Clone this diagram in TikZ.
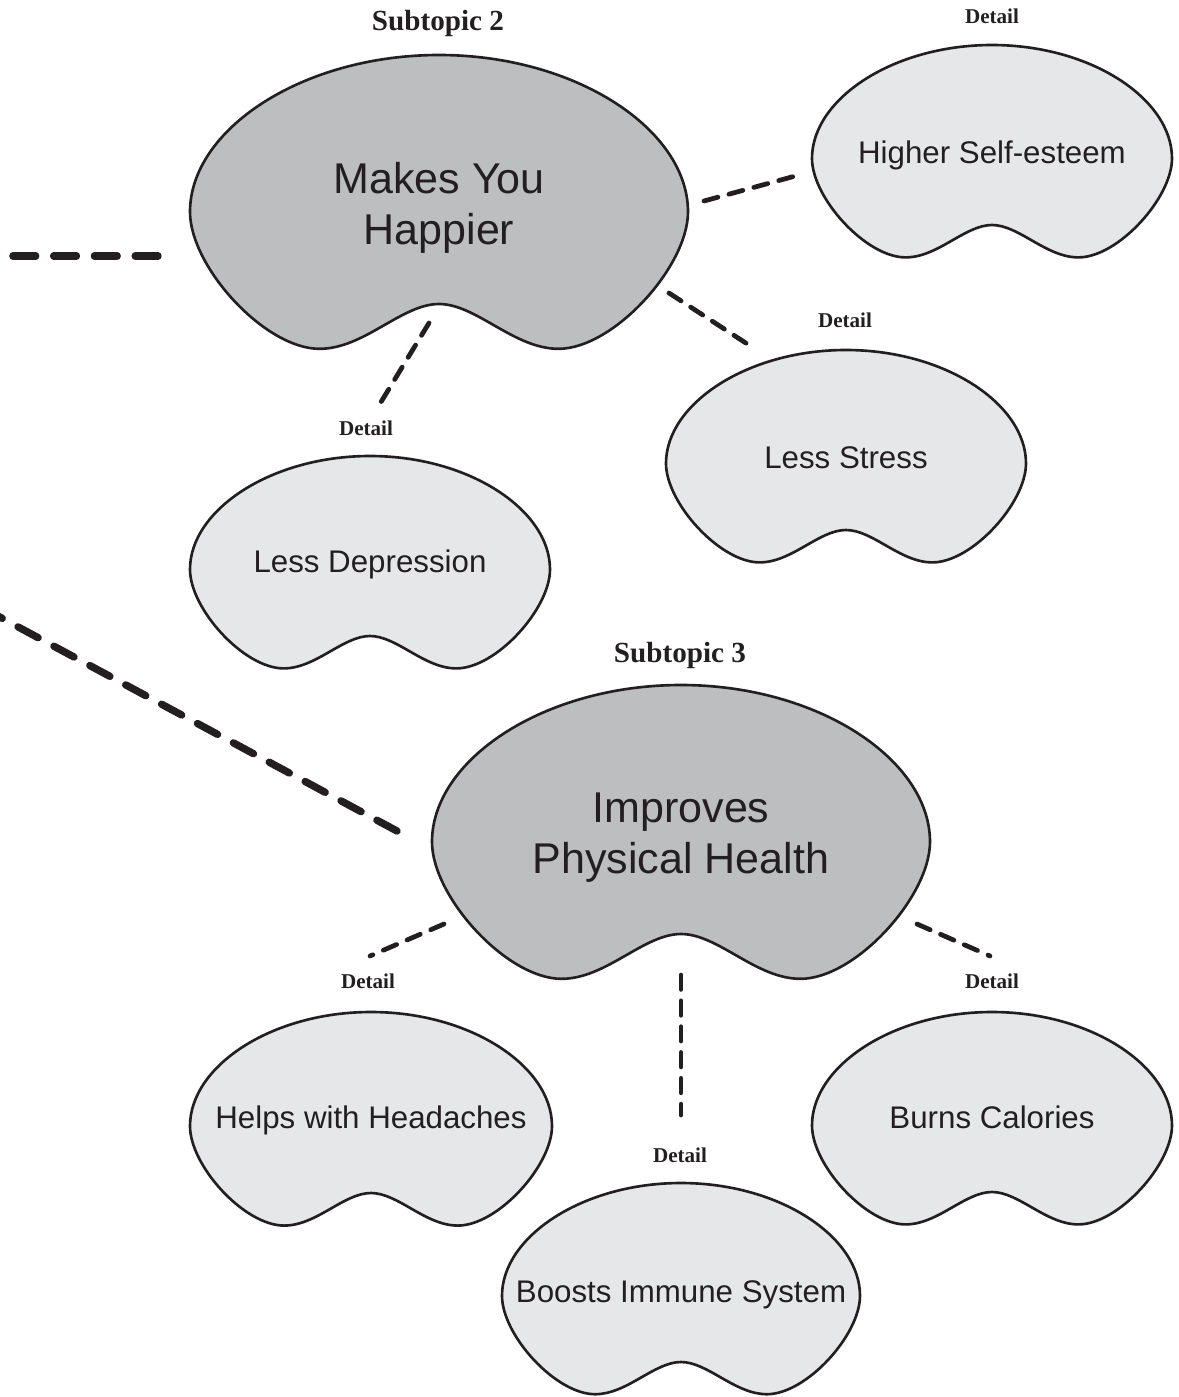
\documentclass[tikz,border=0pt]{standalone}
\usepackage{fontspec}
\setmainfont{Liberation Serif}
\setsansfont{Liberation Sans}
\usepackage{tikz}
\usetikzlibrary{positioning}
\definecolor{ink}{HTML}{231F20}
\definecolor{topicfill}{HTML}{BCBEC0}
\definecolor{detailfill}{HTML}{E6E7E8}
\tikzstyle{bigtext}=[font=\sffamily\fontsize{24.5}{29}\selectfont,text=ink,align=center]
\tikzstyle{smalltext}=[font=\sffamily\fontsize{17.8}{22}\selectfont,text=ink,anchor=base]
\tikzstyle{subtitle}=[font=\bfseries\fontsize{16.6}{19}\selectfont,text=ink,anchor=base]
\tikzstyle{detail}=[font=\bfseries\fontsize{12}{14}\selectfont,text=ink,anchor=base]
\tikzstyle{trunk}=[ink,line width=4.2pt,line cap=round,dash pattern=on 13pt off 10.2pt]
\tikzstyle{link}=[ink,line width=2.7pt,line cap=round,dash pattern=on 8.2pt off 6.5pt]
\tikzset{
  pics/bean/.style={code={
    \path[draw=ink,line width=1.5pt,fill=#1]
      (0,0) .. controls (-0.55,0) and (-1,0.3) .. (-1,0.63)
      .. controls (-1,0.85) and (-0.7,1.18) .. (-0.48,1.18)
      .. controls (-0.3,1.18) and (-0.15,1) .. (0,1)
      .. controls (0.15,1) and (0.3,1.18) .. (0.48,1.18)
      .. controls (0.7,1.18) and (1,0.85) .. (1,0.63)
      .. controls (1,0.3) and (0.55,0) .. (0,0) -- cycle;
  }}
}

\begin{document}
\begin{tikzpicture}[x=0.02cm,y=-0.02cm]
\useasboundingbox (0,0) rectangle (1178,1397);

% Subtopic 2
\pic[scale=249] at (439,55) {bean=topicfill};
\node[bigtext] (happier) at (439,208) {Makes You\\Happier};
\node[subtitle] (sub2) at (438,30) {Subtopic 2};

% Details of subtopic 2
\pic[scale=180] at (992,45) {bean=detailfill};
\node[smalltext] (selfesteem) at (992,163) {Higher Self-esteem};
\node[detail] (selfesteemLabel) at (992,23) {Detail};

\pic[scale=180] at (846,350) {bean=detailfill};
\node[smalltext] (stress) at (846,468) {Less Stress};
\node[detail] (stressLabel) at (845,327) {Detail};

\pic[scale=180] at (370,456) {bean=detailfill};
\node[smalltext] (depression) at (370,572) {Less Depression};
\node[detail] (depressionLabel) at (366,435) {Detail};

% Subtopic 3
\pic[scale=249] at (681,685) {bean=topicfill};
\node[bigtext] (physical) at (681,838) {Improves\\Physical Health};
\node[subtitle] (sub3) at (680,662) {Subtopic 3};

% Details of subtopic 3
\pic[scale=181] at (371,1012) {bean=detailfill};
\node[smalltext] (headaches) at (371,1128) {Helps with Headaches};
\node[detail] (headachesLabel) at (368,988) {Detail};

\pic[scale=180] at (992,1012) {bean=detailfill};
\node[smalltext] (calories) at (992,1128) {Burns Calories};
\node[detail] (caloriesLabel) at (992,988) {Detail};

\pic[scale=179] at (681,1183) {bean=detailfill};
\node[smalltext] (immune) at (681,1302) {Boosts Immune System};
\node[detail] (immuneLabel) at (680,1162) {Detail};

% Connector ends
\coordinate (hub-a) at (-30,256);
\coordinate (happier-w) at (158,256);
\coordinate (hub-b) at (-30,601);
\coordinate (physical-w) at (397,831);
\coordinate (happier-e) at (704,201);
\coordinate (selfesteem-w) at (799,175);
\coordinate (happier-se) at (669,293);
\coordinate (stress-n) at (755,349);
\coordinate (happier-s) at (429,323);
\coordinate (depression-n) at (381,402);
\coordinate (physical-sw) at (444,924);
\coordinate (headaches-n) at (370,956);
\coordinate (physical-se) at (917,924);
\coordinate (calories-n) at (990,956);
\coordinate (physical-s) at (681,975);
\coordinate (immune-n) at (681,1115);

% Connectors
\draw[trunk] (happier-w) -- (hub-a);
\draw[trunk] (physical-w) -- (hub-b);
\draw[link] (happier-e) -- (selfesteem-w);
\draw[link] (happier-se) -- (stress-n);
\draw[link] (happier-s) -- (depression-n);
\draw[link] (physical-sw) -- (headaches-n);
\draw[link] (physical-se) -- (calories-n);
\draw[link] (physical-s) -- (immune-n);

\end{tikzpicture}
\end{document}
